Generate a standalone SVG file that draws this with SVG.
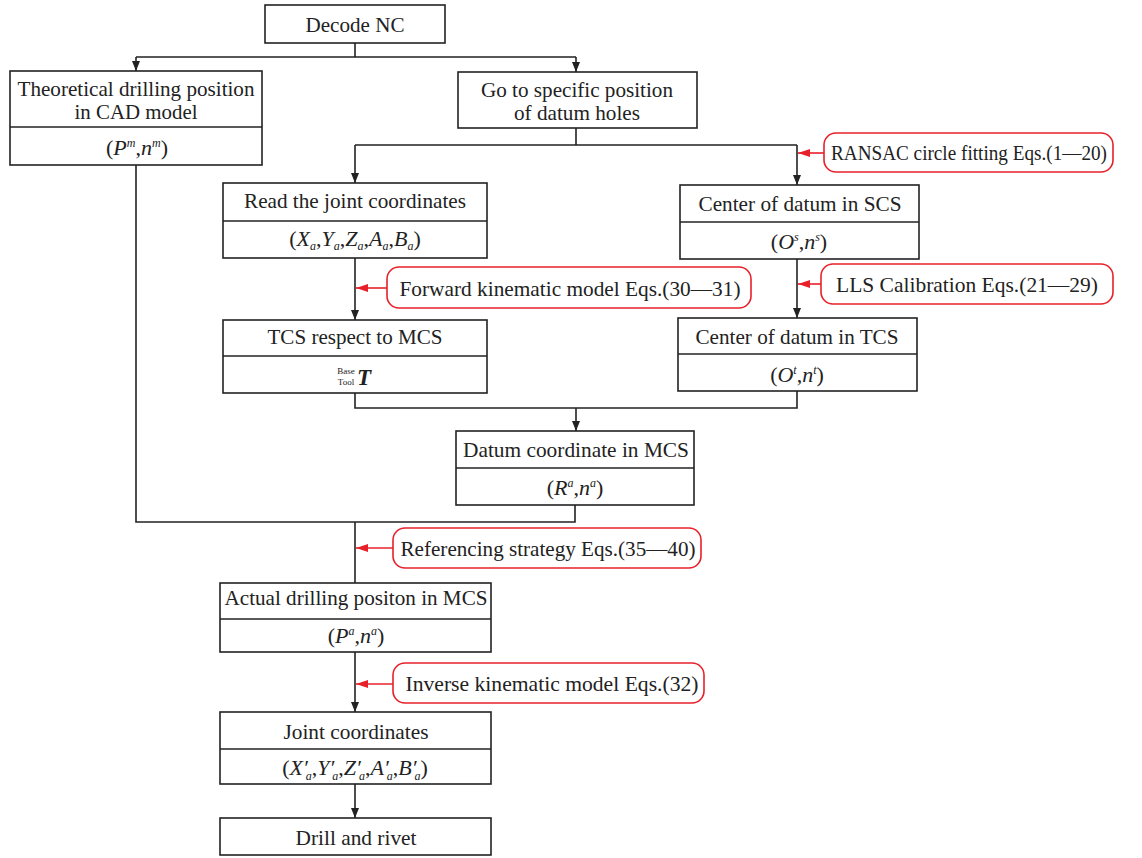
<svg xmlns="http://www.w3.org/2000/svg" width="1142" height="858" viewBox="0 0 1142 858">
<style>
.box{fill:#fff;stroke:#222;stroke-width:1.6}
.note{fill:#fff;stroke:#e8202a;stroke-width:1.6}
.ln{fill:none;stroke:#222;stroke-width:1.6}
.rl{fill:none;stroke:#e8202a;stroke-width:1.6}
text{font-family:'Liberation Serif','DejaVu Serif',serif;font-size:22px;fill:#222;text-anchor:middle}
.i{font-style:italic}
.s{font-size:12px;font-style:italic}
</style>
<defs>
<marker id="ab" markerWidth="10" markerHeight="8" refX="10" refY="4" orient="auto" markerUnits="userSpaceOnUse"><path d="M0,0 L10,4 L0,8 z" fill="#222"/></marker>
<marker id="ar" markerWidth="12" markerHeight="8" refX="12" refY="4" orient="auto" markerUnits="userSpaceOnUse"><path d="M0,0 L12,4 L0,8 z" fill="#e8202a"/></marker>
</defs>
<rect width="1142" height="858" fill="#fff"/>
<g id="connectors">
<path class="ln" d="M355,43 V57 M136,57 H576"/>
<path class="ln" d="M136,57 V71" marker-end="url(#ab)"/>
<path class="ln" d="M576,57 V72" marker-end="url(#ab)"/>
<path class="ln" d="M576,128 V145 M355,145 H797"/>
<path class="ln" d="M355,145 V183" marker-end="url(#ab)"/>
<path class="ln" d="M797,145 V185" marker-end="url(#ab)"/>
<path class="rl" d="M824,153 H798" marker-end="url(#ar)"/>
<path class="ln" d="M355,258 V320" marker-end="url(#ab)"/>
<path class="rl" d="M387,288 H356" marker-end="url(#ar)"/>
<path class="ln" d="M797,259 V318" marker-end="url(#ab)"/>
<path class="rl" d="M821,284 H798" marker-end="url(#ar)"/>
<path class="ln" d="M355,393 V408 H797 V391"/>
<path class="ln" d="M576,408 V431" marker-end="url(#ab)"/>
<path class="ln" d="M575,505 V522 H136 V165"/>
<path class="ln" d="M355,522 V583"/>
<path class="rl" d="M393,548 H356" marker-end="url(#ar)"/>
<path class="ln" d="M355,652 V712" marker-end="url(#ab)"/>
<path class="rl" d="M393,684 H356" marker-end="url(#ar)"/>
<path class="ln" d="M355,784 V818" marker-end="url(#ab)"/>
</g>
<g id="decode">
<rect class="box" x="265" y="5" width="180" height="38"/>
<text x="355" y="32" textLength="99" lengthAdjust="spacingAndGlyphs">Decode NC</text>
</g>
<g id="theoretical">
<rect class="box" x="10" y="71" width="252" height="94"/>
<line class="ln" x1="10" y1="127" x2="262" y2="127"/>
<text x="136" y="96" textLength="237" lengthAdjust="spacingAndGlyphs">Theoretical drilling position</text>
<text x="136" y="119" textLength="123" lengthAdjust="spacingAndGlyphs">in CAD model</text>
<text x="137" y="155">(<tspan class="i">P</tspan><tspan class="s" dy="-8">m</tspan><tspan dy="8">,</tspan><tspan class="i">n</tspan><tspan class="s" dy="-8">m</tspan><tspan dy="8">)</tspan></text>
</g>
<g id="goto">
<rect class="box" x="458" y="72" width="239" height="56"/>
<text x="577" y="97" textLength="192" lengthAdjust="spacingAndGlyphs">Go to specific position</text>
<text x="577" y="120" textLength="126" lengthAdjust="spacingAndGlyphs">of datum holes</text>
</g>
<g id="ransac">
<rect class="note" x="824" y="133" width="289" height="39" rx="12"/>
<text x="969" y="160" style="font-size:20px" textLength="276" lengthAdjust="spacingAndGlyphs">RANSAC circle fitting Eqs.(1—20)</text>
</g>
<g id="read">
<rect class="box" x="223" y="183" width="264" height="75"/>
<line class="ln" x1="223" y1="221" x2="487" y2="221"/>
<text x="355" y="208" textLength="222" lengthAdjust="spacingAndGlyphs">Read the joint coordinates</text>
<text x="355" y="246">(<tspan class="i">X</tspan><tspan class="s" dy="4">a</tspan><tspan dy="-4">,</tspan><tspan class="i">Y</tspan><tspan class="s" dy="4">a</tspan><tspan dy="-4">,</tspan><tspan class="i">Z</tspan><tspan class="s" dy="4">a</tspan><tspan dy="-4">,</tspan><tspan class="i">A</tspan><tspan class="s" dy="4">a</tspan><tspan dy="-4">,</tspan><tspan class="i">B</tspan><tspan class="s" dy="4">a</tspan><tspan dy="-4">)</tspan></text>
</g>
<g id="scs">
<rect class="box" x="680" y="185" width="239" height="74"/>
<line class="ln" x1="680" y1="222" x2="919" y2="222"/>
<text x="800" y="211" textLength="203" lengthAdjust="spacingAndGlyphs">Center of datum in SCS</text>
<text x="799" y="249">(<tspan class="i">O</tspan><tspan class="s" dy="-8">s</tspan><tspan dy="8">,</tspan><tspan class="i">n</tspan><tspan class="s" dy="-8">s</tspan><tspan dy="8">)</tspan></text>
</g>
<g id="forward">
<rect class="note" x="387" y="267" width="364" height="41" rx="12"/>
<text x="570" y="296" textLength="341" lengthAdjust="spacingAndGlyphs">Forward kinematic model Eqs.(30—31)</text>
</g>
<g id="lls">
<rect class="note" x="821" y="264" width="292" height="40" rx="12"/>
<text x="967" y="292" textLength="262" lengthAdjust="spacingAndGlyphs">LLS Calibration Eqs.(21—29)</text>
</g>
<g id="tcs">
<rect class="box" x="223" y="320" width="264" height="73"/>
<line class="ln" x1="223" y1="356" x2="487" y2="356"/>
<text x="355" y="344" textLength="175" lengthAdjust="spacingAndGlyphs">TCS respect to MCS</text>
<text x="346" y="374" style="font-size:9px">Base</text>
<text x="346" y="385" style="font-size:9px">Tool</text>
<text x="364" y="385" style="font-weight:bold;font-style:italic;font-size:23px">T</text>
</g>
<g id="tcscenter">
<rect class="box" x="678" y="318" width="239" height="73"/>
<line class="ln" x1="678" y1="354" x2="917" y2="354"/>
<text x="797" y="344" textLength="203" lengthAdjust="spacingAndGlyphs">Center of datum in TCS</text>
<text x="797" y="382">(<tspan class="i">O</tspan><tspan class="s" dy="-8">t</tspan><tspan dy="8">,</tspan><tspan class="i">n</tspan><tspan class="s" dy="-8">t</tspan><tspan dy="8">)</tspan></text>
</g>
<g id="datum">
<rect class="box" x="456" y="431" width="238" height="74"/>
<line class="ln" x1="456" y1="468" x2="694" y2="468"/>
<text x="576" y="457" textLength="226" lengthAdjust="spacingAndGlyphs">Datum coordinate in MCS</text>
<text x="575" y="495">(<tspan class="i">R</tspan><tspan class="s" dy="-8">a</tspan><tspan dy="8">,</tspan><tspan class="i">n</tspan><tspan class="s" dy="-8">a</tspan><tspan dy="8">)</tspan></text>
</g>
<g id="referencing">
<rect class="note" x="393" y="528" width="308" height="40" rx="12"/>
<text x="548" y="556" textLength="295" lengthAdjust="spacingAndGlyphs">Referencing strategy Eqs.(35—40)</text>
</g>
<g id="actual">
<rect class="box" x="220" y="583" width="271" height="69"/>
<line class="ln" x1="220" y1="619" x2="491" y2="619"/>
<text x="356" y="605" textLength="263" lengthAdjust="spacingAndGlyphs">Actual drilling positon in MCS</text>
<text x="356" y="643">(<tspan class="i">P</tspan><tspan class="s" dy="-8">a</tspan><tspan dy="8">,</tspan><tspan class="i">n</tspan><tspan class="s" dy="-8">a</tspan><tspan dy="8">)</tspan></text>
</g>
<g id="inverse">
<rect class="note" x="393" y="663" width="311" height="40" rx="12"/>
<text x="552" y="691" textLength="293" lengthAdjust="spacingAndGlyphs">Inverse kinematic model Eqs.(32)</text>
</g>
<g id="joint">
<rect class="box" x="220" y="712" width="271" height="72"/>
<line class="ln" x1="220" y1="749" x2="491" y2="749"/>
<text x="355" y="775">(<tspan class="i">X</tspan><tspan class="i">′</tspan><tspan class="s" dx="-2" dy="5">a</tspan><tspan dy="-5">,</tspan><tspan class="i">Y</tspan><tspan class="i">′</tspan><tspan class="s" dx="-2" dy="5">a</tspan><tspan dy="-5">,</tspan><tspan class="i">Z</tspan><tspan class="i">′</tspan><tspan class="s" dx="-2" dy="5">a</tspan><tspan dy="-5">,</tspan><tspan class="i">A</tspan><tspan class="i">′</tspan><tspan class="s" dx="-2" dy="5">a</tspan><tspan dy="-5">,</tspan><tspan class="i">B</tspan><tspan class="i">′</tspan><tspan class="s" dx="-2" dy="5">a</tspan><tspan dy="-5">)</tspan></text>
<text x="356" y="739" textLength="145" lengthAdjust="spacingAndGlyphs">Joint coordinates</text>
</g>
<g id="drill">
<rect class="box" x="220" y="818" width="271" height="37"/>
<text x="356" y="845" textLength="121" lengthAdjust="spacingAndGlyphs">Drill and rivet</text>
</g>
</svg>
